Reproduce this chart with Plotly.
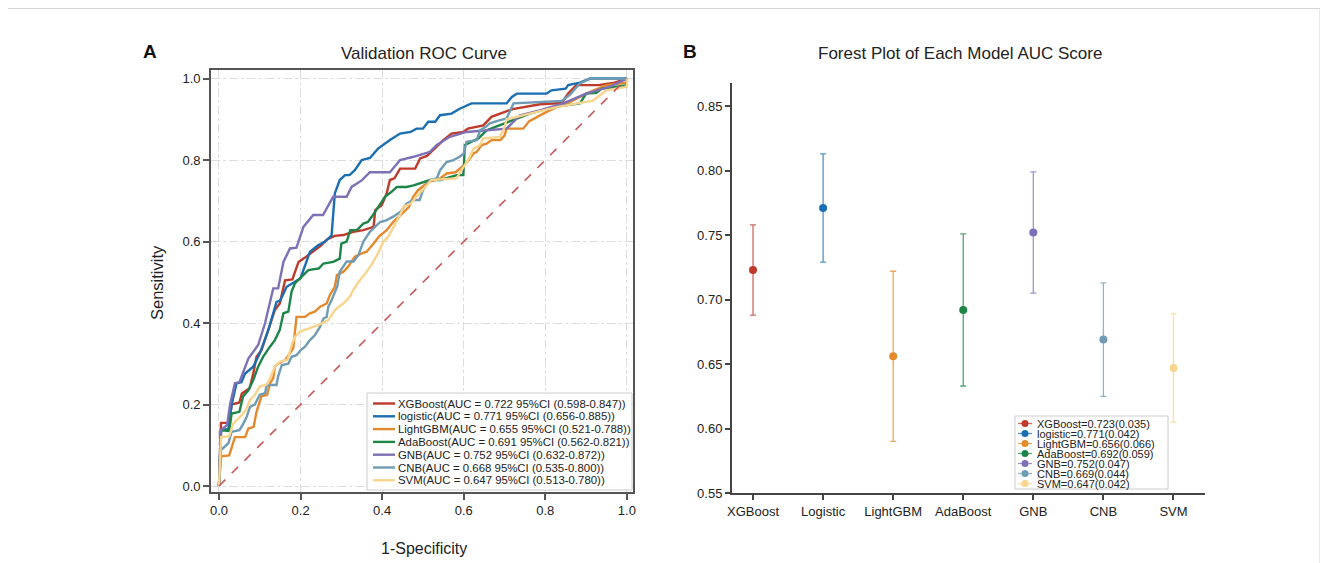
import plotly.graph_objects as go

# page is offset by the browser's 8px body margin, so the figure is made a bit smaller
OFF = 8
W, H = 1320, 555
FONT = "Arial, Liberation Sans, sans-serif"
TXT = "#222222"

# ---- ROC data ----
roc_names = ["XGBoost", "logistic", "LightGBM", "AdaBoost", "GNB", "CNB", "SVM"]
roc_auc = [0.722, 0.771, 0.655, 0.691, 0.752, 0.668, 0.647]
roc_lo = [0.598, 0.656, 0.521, 0.562, 0.632, 0.535, 0.513]
roc_hi = [0.847, 0.885, 0.788, 0.821, 0.872, 0.800, 0.780]
colors = ["#be3a2b", "#1b6eb0", "#e4892c", "#1e8549", "#7d70b6", "#6f9cb4", "#f8d48e"]

xgb_fpr = [0, 0.005, 0.025, 0.031, 0.05, 0.056, 0.075, 0.084, 0.092, 0.104, 0.121, 0.137, 0.149, 0.162, 0.18, 0.195, 0.21, 0.23, 0.25, 0.265, 0.284, 0.305, 0.329, 0.354, 0.379, 0.383, 0.399, 0.411, 0.419, 0.43, 0.444, 0.481, 0.493, 0.51, 0.525, 0.55, 0.57, 0.599, 0.61, 0.648, 0.668, 0.689, 0.72, 0.787, 0.84, 0.856, 0.876, 0.93, 0.97, 1.0]
xgb_tpr = [0, 0.155, 0.155, 0.2, 0.205, 0.227, 0.24, 0.276, 0.317, 0.333, 0.383, 0.432, 0.448, 0.505, 0.507, 0.55, 0.56, 0.575, 0.59, 0.605, 0.614, 0.616, 0.624, 0.628, 0.636, 0.677, 0.689, 0.718, 0.751, 0.755, 0.779, 0.779, 0.804, 0.81, 0.824, 0.849, 0.865, 0.869, 0.877, 0.885, 0.906, 0.914, 0.925, 0.937, 0.94, 0.963, 0.984, 0.984, 0.99, 1.0]

log_fpr = [0, 0.005, 0.023, 0.031, 0.043, 0.055, 0.064, 0.084, 0.1, 0.121, 0.141, 0.15, 0.166, 0.186, 0.2, 0.223, 0.243, 0.26, 0.276, 0.284, 0.296, 0.309, 0.32, 0.333, 0.35, 0.37, 0.39, 0.419, 0.444, 0.47, 0.484, 0.5, 0.513, 0.53, 0.542, 0.57, 0.59, 0.619, 0.705, 0.718, 0.73, 0.803, 0.815, 0.85, 0.856, 0.885, 0.91, 1.0]
log_tpr = [0, 0.137, 0.14, 0.2, 0.252, 0.255, 0.276, 0.293, 0.325, 0.383, 0.452, 0.455, 0.489, 0.501, 0.51, 0.575, 0.591, 0.6, 0.615, 0.718, 0.751, 0.763, 0.763, 0.775, 0.8, 0.805, 0.828, 0.849, 0.865, 0.869, 0.877, 0.877, 0.894, 0.894, 0.91, 0.914, 0.926, 0.939, 0.939, 0.955, 0.963, 0.963, 0.971, 0.975, 0.984, 0.99, 1.0, 1.0]

lgb_fpr = [0, 0.005, 0.025, 0.031, 0.039, 0.064, 0.072, 0.085, 0.092, 0.104, 0.118, 0.125, 0.133, 0.137, 0.145, 0.162, 0.174, 0.182, 0.19, 0.211, 0.223, 0.235, 0.248, 0.264, 0.272, 0.284, 0.289, 0.305, 0.317, 0.333, 0.35, 0.362, 0.379, 0.392, 0.411, 0.427, 0.44, 0.456, 0.466, 0.476, 0.488, 0.513, 0.542, 0.558, 0.58, 0.6, 0.612, 0.624, 0.632, 0.644, 0.656, 0.668, 0.69, 0.70, 0.705, 0.746, 0.76, 0.795, 0.827, 0.86, 0.9, 0.95, 1.0, 1.0]
lgb_tpr = [0, 0.073, 0.075, 0.096, 0.12, 0.12, 0.141, 0.145, 0.182, 0.22, 0.224, 0.252, 0.265, 0.293, 0.3, 0.309, 0.325, 0.338, 0.415, 0.415, 0.424, 0.428, 0.44, 0.448, 0.469, 0.489, 0.518, 0.526, 0.539, 0.563, 0.571, 0.575, 0.595, 0.612, 0.628, 0.648, 0.66, 0.677, 0.685, 0.71, 0.726, 0.746, 0.755, 0.767, 0.77, 0.787, 0.8, 0.816, 0.82, 0.837, 0.84, 0.849, 0.849, 0.86, 0.877, 0.877, 0.895, 0.914, 0.93, 0.942, 0.963, 0.984, 0.99, 1.0]

ada_fpr = [0, 0.005, 0.025, 0.031, 0.05, 0.059, 0.072, 0.084, 0.096, 0.108, 0.125, 0.137, 0.149, 0.158, 0.17, 0.178, 0.186, 0.2, 0.219, 0.245, 0.256, 0.28, 0.296, 0.3, 0.313, 0.322, 0.338, 0.354, 0.365, 0.374, 0.394, 0.407, 0.423, 0.436, 0.46, 0.477, 0.517, 0.542, 0.583, 0.599, 0.603, 0.62, 0.636, 0.656, 0.68, 0.721, 0.762, 0.819, 0.885, 0.9, 0.925, 0.938, 0.999, 1.0]
ada_tpr = [0, 0.137, 0.135, 0.178, 0.182, 0.22, 0.235, 0.26, 0.293, 0.317, 0.342, 0.358, 0.383, 0.424, 0.428, 0.477, 0.497, 0.51, 0.53, 0.534, 0.546, 0.55, 0.558, 0.595, 0.6, 0.628, 0.628, 0.644, 0.648, 0.66, 0.689, 0.71, 0.722, 0.734, 0.734, 0.738, 0.751, 0.751, 0.763, 0.763, 0.837, 0.845, 0.853, 0.873, 0.882, 0.898, 0.914, 0.93, 0.939, 0.963, 0.965, 0.975, 0.983, 1.0]

gnb_fpr = [0, 0.005, 0.02, 0.027, 0.039, 0.05, 0.072, 0.096, 0.113, 0.133, 0.145, 0.158, 0.174, 0.19, 0.207, 0.231, 0.255, 0.264, 0.28, 0.313, 0.325, 0.35, 0.37, 0.419, 0.444, 0.477, 0.517, 0.534, 0.566, 0.607, 0.705, 0.738, 0.787, 0.844, 0.9, 0.958, 1.0]
gnb_tpr = [0, 0.137, 0.15, 0.2, 0.252, 0.255, 0.313, 0.346, 0.4, 0.485, 0.485, 0.55, 0.583, 0.585, 0.636, 0.665, 0.665, 0.681, 0.71, 0.71, 0.734, 0.75, 0.77, 0.77, 0.8, 0.808, 0.82, 0.837, 0.857, 0.869, 0.877, 0.91, 0.922, 0.939, 0.963, 0.98, 1.0]

cnb_fpr = [0, 0.005, 0.023, 0.031, 0.05, 0.058, 0.068, 0.076, 0.088, 0.1, 0.113, 0.117, 0.141, 0.145, 0.154, 0.17, 0.178, 0.19, 0.2, 0.211, 0.223, 0.235, 0.248, 0.256, 0.264, 0.268, 0.276, 0.284, 0.29, 0.296, 0.313, 0.33, 0.342, 0.354, 0.37, 0.395, 0.41, 0.427, 0.445, 0.46, 0.476, 0.492, 0.5, 0.517, 0.534, 0.542, 0.558, 0.575, 0.59, 0.6, 0.607, 0.632, 0.64, 0.655, 0.664, 0.689, 0.705, 0.722, 0.84, 0.86, 0.885, 0.91, 1.0]
cnb_tpr = [0, 0.088, 0.105, 0.133, 0.137, 0.15, 0.17, 0.194, 0.2, 0.224, 0.228, 0.248, 0.248, 0.269, 0.297, 0.3, 0.317, 0.321, 0.333, 0.342, 0.358, 0.37, 0.391, 0.411, 0.415, 0.44, 0.456, 0.478, 0.49, 0.526, 0.551, 0.551, 0.567, 0.6, 0.624, 0.648, 0.652, 0.661, 0.673, 0.693, 0.702, 0.702, 0.726, 0.751, 0.755, 0.775, 0.795, 0.8, 0.808, 0.816, 0.845, 0.849, 0.873, 0.882, 0.89, 0.898, 0.902, 0.939, 0.945, 0.96, 0.988, 1.0, 1.0]

svm_fpr = [0, 0.005, 0.025, 0.035, 0.056, 0.065, 0.076, 0.088, 0.1, 0.118, 0.129, 0.137, 0.149, 0.168, 0.178, 0.186, 0.199, 0.219, 0.243, 0.268, 0.284, 0.309, 0.321, 0.329, 0.342, 0.362, 0.375, 0.39, 0.403, 0.415, 0.432, 0.444, 0.452, 0.47, 0.484, 0.505, 0.521, 0.582, 0.599, 0.615, 0.624, 0.64, 0.648, 0.689, 0.70, 0.705, 0.762, 0.827, 0.917, 0.95, 1.0, 1.0]
svm_tpr = [0, 0.12, 0.122, 0.153, 0.174, 0.185, 0.211, 0.224, 0.244, 0.25, 0.273, 0.293, 0.305, 0.31, 0.346, 0.366, 0.379, 0.387, 0.395, 0.407, 0.432, 0.452, 0.465, 0.481, 0.501, 0.526, 0.545, 0.571, 0.6, 0.612, 0.645, 0.665, 0.685, 0.693, 0.71, 0.734, 0.751, 0.755, 0.783, 0.808, 0.828, 0.837, 0.853, 0.857, 0.88, 0.9, 0.914, 0.93, 0.946, 0.971, 0.98, 1.0]

roc_fpr = [xgb_fpr, log_fpr, lgb_fpr, ada_fpr, gnb_fpr, cnb_fpr, svm_fpr]
roc_tpr = [xgb_tpr, log_tpr, lgb_tpr, ada_tpr, gnb_tpr, cnb_tpr, svm_tpr]
chance = [0, 1]

# ---- forest plot data ----
forest_cats = ["XGBoost", "Logistic", "LightGBM", "AdaBoost", "GNB", "CNB", "SVM"]
forest_names = ["XGBoost", "logistic", "LightGBM", "AdaBoost", "GNB", "CNB", "SVM"]
forest_auc = [0.723, 0.771, 0.656, 0.692, 0.752, 0.669, 0.647]
forest_err = [0.035, 0.042, 0.066, 0.059, 0.047, 0.044, 0.042]


def px(x):
    return (x - OFF) / W


def py(y):
    return 1 - (y - OFF) / H


def rgba(hexc, a):
    h = hexc.lstrip("#")
    return "rgba(%d,%d,%d,%.2f)" % (int(h[0:2], 16), int(h[2:4], 16), int(h[4:6], 16), a)


fig = go.Figure()

for i, name in enumerate(roc_names):
    fig.add_trace(go.Scatter(x=roc_fpr[i], y=roc_tpr[i], mode="lines", name=name,
                             line=dict(color=colors[i], width=2.4),
                             xaxis="x", yaxis="y", showlegend=False))
fig.add_trace(go.Scatter(x=chance, y=chance, mode="lines",
                         line=dict(color="#c9575a", width=1.6, dash="dash"),
                         xaxis="x", yaxis="y", showlegend=False))

for i, cat in enumerate(forest_cats):
    fig.add_trace(go.Scatter(x=[cat], y=[forest_auc[i]], mode="markers",
                             marker=dict(color=colors[i], size=8),
                             error_y=dict(type="data", array=[forest_err[i]], visible=True,
                                          color=rgba(colors[i], 0.75), thickness=1.3, width=3),
                             xaxis="x2", yaxis="y2", showlegend=False))

shapes = []
annotations = []

# left legend (drawn by hand to keep the tight row spacing)
shapes.append(dict(type="rect", xref="paper", yref="paper", x0=px(367), x1=px(632),
                   y0=py(490), y1=py(393), line=dict(color="#cccccc", width=1),
                   fillcolor="rgba(255,255,255,0.85)", layer="above"))
for i, name in enumerate(roc_names):
    yy = 403.5 + i * 12.8
    shapes.append(dict(type="line", xref="paper", yref="paper", x0=px(373), x1=px(395),
                       y0=py(yy), y1=py(yy), line=dict(color=colors[i], width=2.4), layer="above"))
    annotations.append(dict(xref="paper", yref="paper", x=px(396), y=py(yy), xanchor="left",
                            yanchor="middle", showarrow=False,
                            text="%s(AUC = %.3f 95%%CI (%.3f-%.3f))" % (name, roc_auc[i], roc_lo[i], roc_hi[i]),
                            font=dict(family=FONT, size=11.4, color=TXT)))

# right legend
shapes.append(dict(type="rect", xref="paper", yref="paper", x0=px(1015), x1=px(1168),
                   y0=py(489), y1=py(416), line=dict(color="#cccccc", width=1),
                   fillcolor="rgba(255,255,255,0.85)", layer="above"))
for i, name in enumerate(forest_names):
    yy = 423.5 + i * 10
    shapes.append(dict(type="line", xref="paper", yref="paper", x0=px(1018), x1=px(1032),
                       y0=py(yy), y1=py(yy), line=dict(color=rgba(colors[i], 0.75), width=1.3), layer="above"))
    shapes.append(dict(type="circle", xref="paper", yref="paper", x0=px(1021.5), x1=px(1028.5),
                       y0=py(yy + 3.5), y1=py(yy - 3.5), line=dict(width=0),
                       fillcolor=colors[i], layer="above"))
    annotations.append(dict(xref="paper", yref="paper", x=px(1035), y=py(yy), xanchor="left",
                            yanchor="middle", showarrow=False,
                            text="%s=%.3f(%.3f)" % (name, forest_auc[i], forest_err[i]),
                            font=dict(family=FONT, size=11, color=TXT)))

# titles, axis titles and panel letters
annotations += [
    dict(xref="paper", yref="paper", x=px(424), y=py(53), text="Validation ROC Curve",
         showarrow=False, xanchor="center", yanchor="middle", font=dict(family=FONT, size=17, color=TXT)),
    dict(xref="paper", yref="paper", x=px(960), y=py(53), text="Forest Plot of Each Model AUC Score",
         showarrow=False, xanchor="center", yanchor="middle", font=dict(family=FONT, size=17, color=TXT)),
    dict(xref="paper", yref="paper", x=px(424), y=py(548), text="1-Specificity",
         showarrow=False, xanchor="center", yanchor="middle", font=dict(family=FONT, size=16, color=TXT)),
    dict(xref="paper", yref="paper", x=px(157), y=py(283), text="Sensitivity", textangle=-90,
         showarrow=False, xanchor="center", yanchor="middle", font=dict(family=FONT, size=16.5, color=TXT)),
    dict(xref="paper", yref="paper", x=px(150), y=py(52), text="<b>A</b>",
         showarrow=False, xanchor="center", yanchor="middle", font=dict(family=FONT, size=19, color="#111")),
    dict(xref="paper", yref="paper", x=px(690), y=py(52), text="<b>B</b>",
         showarrow=False, xanchor="center", yanchor="middle", font=dict(family=FONT, size=19, color="#111")),
]

# faint page border (top and right)
shapes.append(dict(type="rect", xref="paper", yref="paper", x0=px(-20), x1=px(1320),
                   y0=py(620), y1=py(8.5), line=dict(color="#d5d5d5", width=1), layer="below"))

tick_font = dict(family=FONT, size=13, color=TXT)
fig.update_layout(
    width=W, height=H, margin=dict(l=0, r=0, t=0, b=0, autoexpand=False),
    paper_bgcolor="white", plot_bgcolor="white", showlegend=False,
    xaxis=dict(domain=[px(211), px(633)], range=[-0.0196, 1.015], tickvals=[0, 0.2, 0.4, 0.6, 0.8, 1.0],
               tickformat=".1f", showgrid=True, gridcolor="#dddddd", griddash="dashdot", gridwidth=1,
               zeroline=False, showline=True, mirror=True, linecolor="#555555", linewidth=1.6,
               ticks="outside", ticklen=6, tickwidth=1.5, tickcolor="#555555", tickfont=tick_font,
               automargin=False, anchor="y"),
    yaxis=dict(domain=[py(492), py(70)], range=[-0.0147, 1.021], tickvals=[0, 0.2, 0.4, 0.6, 0.8, 1.0],
               tickformat=".1f", showgrid=True, gridcolor="#dddddd", griddash="dashdot", gridwidth=1,
               zeroline=False, showline=True, mirror=True, linecolor="#555555", linewidth=1.6,
               ticks="outside", ticklen=6, tickwidth=1.5, tickcolor="#555555", tickfont=tick_font,
               automargin=False, anchor="x"),
    xaxis2=dict(domain=[px(732), px(1205)], type="category", range=[-0.3, 6.45],
                categoryorder="array", categoryarray=forest_cats,
                showgrid=False, zeroline=False, showline=True, linecolor="#444444", linewidth=2,
                ticks="outside", ticklen=5, tickwidth=1.5, tickcolor="#444444", tickfont=tick_font,
                automargin=False, anchor="y2"),
    yaxis2=dict(domain=[py(493), py(83)], range=[0.55, 0.868], tickvals=[0.55, 0.60, 0.65, 0.70, 0.75, 0.80, 0.85],
                tickformat=".2f", showgrid=False, zeroline=False, showline=True, linecolor="#444444", linewidth=2,
                ticks="outside", ticklen=5, tickwidth=1.5, tickcolor="#444444", tickfont=tick_font,
                automargin=False, anchor="x2"),
    shapes=shapes, annotations=annotations,
)

fig.write_html("out.html")
